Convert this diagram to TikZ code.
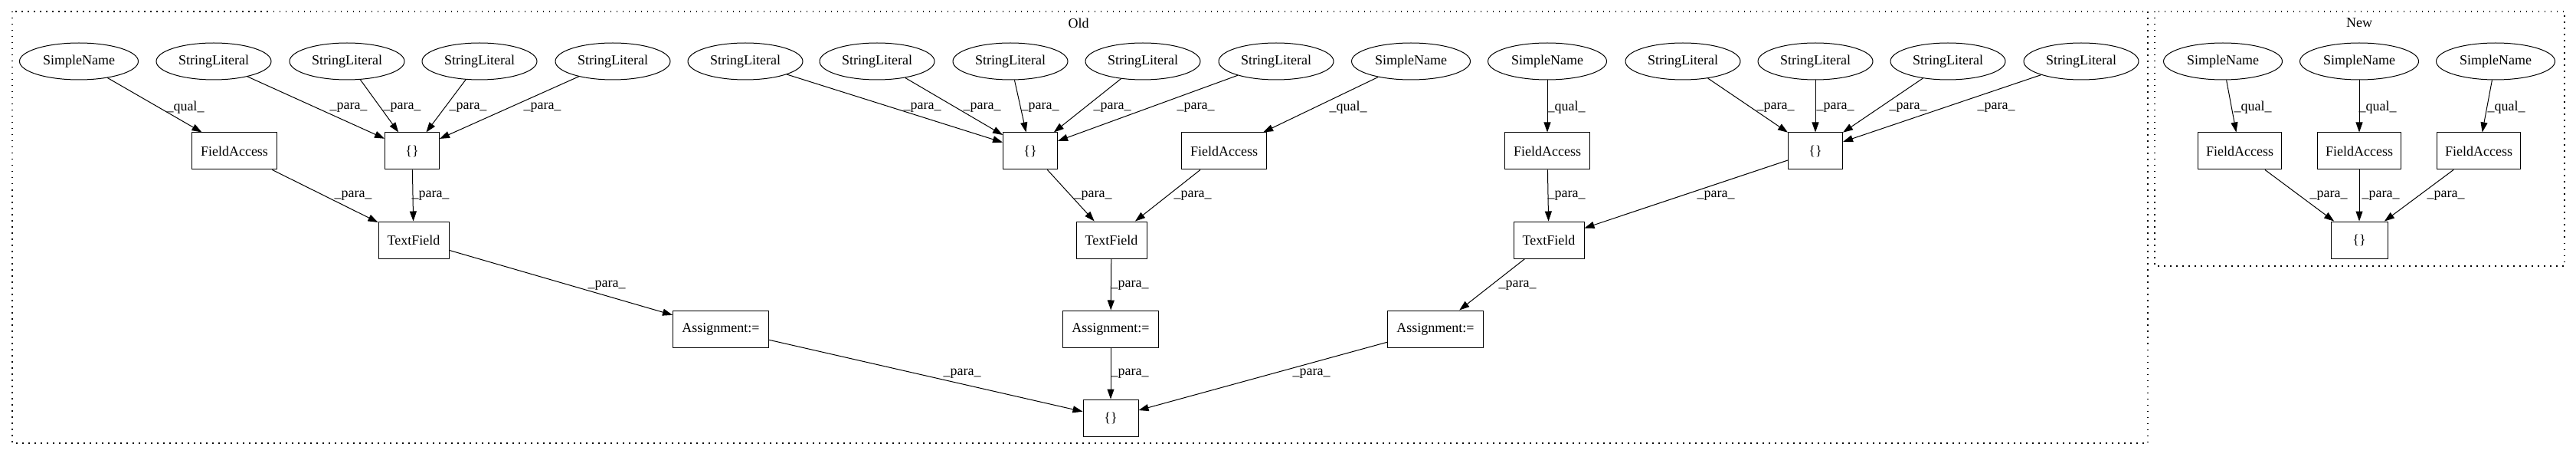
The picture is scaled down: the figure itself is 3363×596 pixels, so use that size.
\documentclass[tikz,border=0pt]{standalone}
\usepackage{fontspec}
\setmainfont{Liberation Serif}
\usetikzlibrary{shapes.geometric,arrows.meta}
\begin{document}
\begin{tikzpicture}[x=1pt,y=-1pt,
  every node/.style={font=\fontsize{18}{20}\selectfont},
  ell/.style={draw,ellipse,line width=1pt,minimum width=150pt,minimum height=48pt,inner sep=0pt},
  sn/.style={ell,minimum width=155pt},
  bx/.style={draw,rectangle,line width=1pt,minimum height=48pt,inner sep=0pt},
  fa/.style={bx,minimum width=111pt},
  br/.style={bx,minimum width=71pt},
  tf/.style={bx,minimum width=92pt},
  as/.style={bx,minimum width=125pt},
  e/.style={draw,line width=1pt,-{Triangle[length=13pt,width=9pt]}},
  lab/.style={inner sep=0pt},
  clu/.style={draw,line width=1.2pt,dash pattern=on 1.5pt off 6.5pt}]
\useasboundingbox (0,0) rectangle (3363,596);
% clusters
\draw[clu] (16,15) rectangle (2804,578);
\draw[clu] (2813,15) rectangle (3348,347);
\node[lab] (oldl) at (1408,30) {Old};
\node[lab] (newl) at (3080,30) {New};
% row 1
\node[sn] (sn1) at (103,80) {SimpleName};
\node[ell] (sl1) at (279,80) {StringLiteral};
\node[ell] (sl2) at (453,80) {StringLiteral};
\node[ell] (sl3) at (626,80) {StringLiteral};
\node[ell] (sl4) at (800,80) {StringLiteral};
\node[ell] (sl5) at (973,80) {StringLiteral};
\node[ell] (sl6) at (1145,80) {StringLiteral};
\node[ell] (sl7) at (1319,80) {StringLiteral};
\node[ell] (sl8) at (1492,80) {StringLiteral};
\node[ell] (sl9) at (1666,80) {StringLiteral};
\node[sn] (sn2) at (1842,80) {SimpleName};
\node[sn] (sn3) at (2020,80) {SimpleName};
\node[ell] (sl10) at (2197,80) {StringLiteral};
\node[ell] (sl11) at (2370,80) {StringLiteral};
\node[ell] (sl12) at (2543,80) {StringLiteral};
\node[ell] (sl13) at (2717,80) {StringLiteral};
\node[sn] (na) at (2902,80) {SimpleName};
\node[sn] (nb) at (3080,80) {SimpleName};
\node[sn] (nc) at (3258,80) {SimpleName};
% row 2
\node[fa] (fa1) at (306,197) {FieldAccess};
\node[br] (c1) at (538,197) {\{\}};
\node[br] (c2) at (1345,197) {\{\}};
\node[fa] (fa2) at (1598,197) {FieldAccess};
\node[fa] (fa3) at (2020,197) {FieldAccess};
\node[br] (c3) at (2370,197) {\{\}};
\node[fa,minimum width=109pt] (nfa) at (2924,197) {FieldAccess};
\node[fa,minimum width=109pt] (nfb) at (3080,197) {FieldAccess};
\node[fa,minimum width=109pt] (nfc) at (3236,197) {FieldAccess};
% row 3
\node[tf] (tf1) at (540,313) {TextField};
\node[tf] (tf2) at (1451,313) {TextField};
\node[tf] (tf3) at (2022,313) {TextField};
\node[br,minimum width=74pt] (nc0) at (3080,313) {\{\}};
% row 4
\node[as] (a1) at (941,429) {Assignment:=};
\node[as] (a2) at (1450,429) {Assignment:=};
\node[as] (a3) at (1874,429) {Assignment:=};
% row 5
\node[br,minimum width=72pt] (fin) at (1450,545) {\{\}};
% edges row1->row2
\draw[e] (sn1) -- (fa1) node[lab] at (242,140) {\_qual\_};
\draw[e] (sl1) -- (c1) node[lab] at (455,140) {\_para\_};
\draw[e] (sl2) -- (c1) node[lab] at (525,140) {\_para\_};
\draw[e] (sl3) -- (c1) node[lab] at (611,140) {\_para\_};
\draw[e] (sl4) -- (c1) node[lab] at (708,140) {\_para\_};
\draw[e] (sl5) -- (c2) node[lab] at (1204,140) {\_para\_};
\draw[e] (sl6) -- (c2) node[lab] at (1282,140) {\_para\_};
\draw[e] (sl7) -- (c2) node[lab] at (1358,140) {\_para\_};
\draw[e] (sl8) -- (c2) node[lab] at (1452,140) {\_para\_};
\draw[e] (sl9) -- (c2) node[lab] at (1561,140) {\_para\_};
\draw[e] (sn2) -- (fa2) node[lab] at (1760,140) {\_qual\_};
\draw[e] (sn3) -- (fa3) node[lab] at (2045,140) {\_qual\_};
\draw[e] (sl10) -- (c3) node[lab] at (2318,140) {\_para\_};
\draw[e] (sl11) -- (c3) node[lab] at (2396,140) {\_para\_};
\draw[e] (sl12) -- (c3) node[lab] at (2491,140) {\_para\_};
\draw[e] (sl13) -- (c3) node[lab] at (2606,140) {\_para\_};
\draw[e] (na) -- (nfa) node[lab] at (2941,140) {\_qual\_};
\draw[e] (nb) -- (nfb) node[lab] at (3104,140) {\_qual\_};
\draw[e] (nc) -- (nfc) node[lab] at (3272,140) {\_qual\_};
% row2->row3
\draw[e] (fa1) -- (tf1) node[lab] at (461,255) {\_para\_};
\draw[e] (c1) -- (tf1) node[lab] at (562,255) {\_para\_};
\draw[e] (c2) -- (tf2) node[lab] at (1427,255) {\_para\_};
\draw[e] (fa2) -- (tf2) node[lab] at (1557,255) {\_para\_};
\draw[e] (fa3) -- (tf3) node[lab] at (2045,255) {\_para\_};
\draw[e] (c3) -- (tf3) node[lab] at (2240,255) {\_para\_};
\draw[e] (nfa) -- (nc0) node[lab] at (3040,255) {\_para\_};
\draw[e] (nfb) -- (nc0) node[lab] at (3108,255) {\_para\_};
\draw[e] (nfc) -- (nc0) node[lab] at (3193,255) {\_para\_};
% row3->row4
\draw[e] (tf1) -- (a1) node[lab] at (792,372) {\_para\_};
\draw[e] (tf2) -- (a2) node[lab] at (1475,372) {\_para\_};
\draw[e] (tf3) -- (a3) node[lab] at (1981,372) {\_para\_};
% row4->row5
\draw[e] (a1) -- (fin) node[lab] at (1256,487) {\_para\_};
\draw[e] (a2) -- (fin) node[lab] at (1475,487) {\_para\_};
\draw[e] (a3) -- (fin) node[lab] at (1712,487) {\_para\_};
\end{tikzpicture}
\end{document}
